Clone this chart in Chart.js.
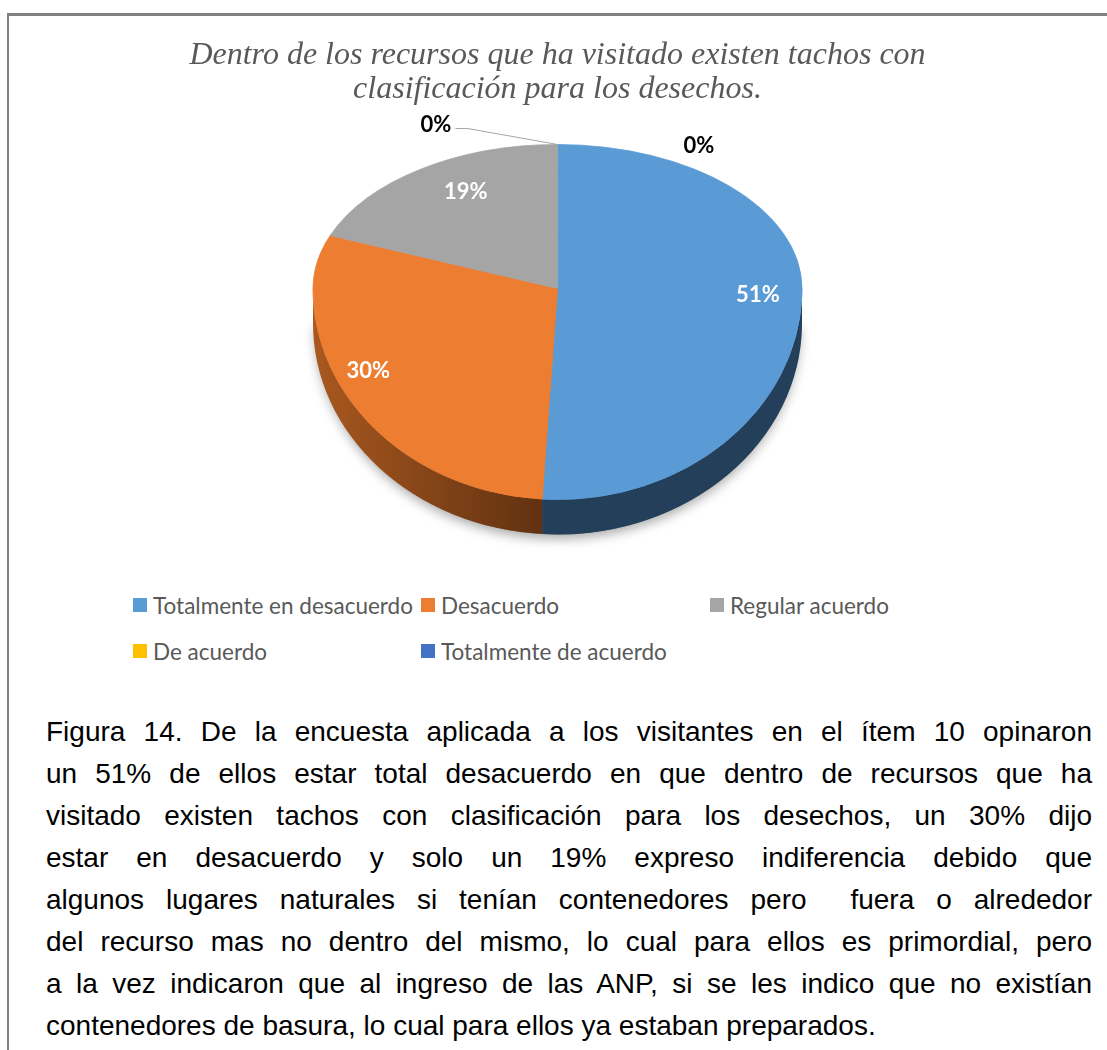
<!DOCTYPE html>
<html lang="es">
<head>
<meta charset="utf-8">
<title>Figura 14</title>
<script src="https://cdn.jsdelivr.net/npm/chart.js@4"></script>
<style>
  html, body { margin: 0; padding: 0; background: #fff; overflow: hidden; }
  body { width: 1107px; height: 1050px; position: relative; }
  #frame {
    position: absolute; left: 7px; top: 13px; width: 1200px; height: 1100px;
    border-top: 3px solid #808080; border-left: 2px solid #808080;
  }
  #chart { position: absolute; left: 0; top: 16px; }
  #legend {
    position: absolute; left: 133px; top: 593px;
    display: grid; grid-template-columns: 288px 289px auto; row-gap: 22px;
    font-family: Lato, sans-serif; font-size: 22.5px; color: #595959;
  }
  #legend .item { display: flex; align-items: center; height: 24px; white-space: nowrap; }
  #legend .box { width: 14px; height: 14px; margin-right: 6px; flex: none; }
  #caption {
    position: absolute; left: 46px; top: 711px; width: 1046px;
    font-family: "Liberation Sans", Arial, sans-serif; font-size: 28px; line-height: 42px; color: #000;
  }
  #caption div { text-align: justify; text-align-last: justify; white-space: pre-wrap; }
  #caption div:last-child { text-align-last: left; }
</style>
</head>
<body>
<div id="frame"></div>
<canvas id="chart" width="1107" height="570"></canvas>
<div id="legend"></div>
<div id="caption">
<div>Figura 14. De la encuesta aplicada a los visitantes en el ítem 10 opinaron</div>
<div>un 51% de ellos estar total desacuerdo en que dentro de recursos que ha</div>
<div>visitado existen tachos con clasificación para los desechos, un 30% dijo</div>
<div>estar en desacuerdo y solo un 19% expreso indiferencia debido que</div>
<div>algunos lugares naturales si tenían contenedores pero  fuera o alrededor</div>
<div>del recurso mas no dentro del mismo, lo cual para ellos es primordial, pero</div>
<div>a la vez indicaron que al ingreso de las ANP, si se les indico que no existían</div>
<div>contenedores de basura, lo cual para ellos ya estaban preparados.</div>
</div>
<script>
"use strict";

const titleLines = [
  "Dentro de los recursos que ha visitado existen tachos con",
  "clasificación para los desechos.",
];
const categories = [
  "Totalmente en desacuerdo",
  "Desacuerdo",
  "Regular acuerdo",
  "De acuerdo",
  "Totalmente de acuerdo",
];
const percentages = [51, 30, 19, 0, 0];

const faceColors = ["#5B9BD5", "#ED7D31", "#A5A5A5", "#FFC000", "#4472C4"];
const sideColors = ["#243F5A", "#ED7D31", "#5F5F5F", "#8F6C00", "#263F6E"];

// tilt of the pie: far half is flatter than the near half (fake perspective)
const TOP_SCALE = 0.589;
const BOTTOM_SCALE = 0.863;
const DEPTH = 35;
const LABEL_RADIUS = 0.82;
// small nudges so labels land where Excel put them
const labelNudge = [[0, 1], [-20, -10], [21, 1], [0, 0], [0, 0]];

const pie3d = {
  id: "pie3d",
  beforeDatasetDraw(chart, args) {
    const ctx = chart.ctx;
    const meta = args.meta;
    const arcs = meta.data;
    const { x, y, outerRadius: r } = arcs[0].getProps(["x", "y", "outerRadius"], true);
    const ry = r * BOTTOM_SCALE;

    // soft shadow under the near rim
    ctx.save();
    ctx.shadowColor = "rgba(0,0,0,0.35)";
    ctx.shadowBlur = 12;
    ctx.shadowOffsetY = 4;
    ctx.beginPath();
    ctx.ellipse(x, y + DEPTH, r - 2, ry, 0, 0, Math.PI);
    ctx.closePath();
    ctx.fillStyle = "#777";
    ctx.fill();
    ctx.restore();

    // visible side walls (front half only)
    arcs.forEach((arc, i) => {
      const a1 = Math.max(arc.startAngle, 0);
      const a2 = Math.min(arc.endAngle, Math.PI);
      if (a2 <= a1) return;
      ctx.beginPath();
      ctx.ellipse(x, y, r, ry, 0, a1, a2);
      ctx.ellipse(x, y + DEPTH, r, ry, 0, a2, a1, true);
      ctx.closePath();
      if (i === 1) {
        const g = ctx.createLinearGradient(x - r, 0, x, 0);
        g.addColorStop(0, "#A9581F");
        g.addColorStop(1, "#5C2F10");
        ctx.fillStyle = g;
      } else {
        ctx.fillStyle = sideColors[i];
      }
      ctx.fill();
    });

    // top face, far half then near half
    ctx.save();
    ctx.beginPath();
    ctx.rect(0, 0, chart.width, y + 1);
    ctx.clip();
    ctx.translate(x, y);
    ctx.scale(1, TOP_SCALE);
    ctx.translate(-x, -y);
    meta.controller.draw();
    ctx.restore();

    ctx.save();
    ctx.beginPath();
    ctx.rect(0, y, chart.width, chart.height - y);
    ctx.clip();
    ctx.translate(x, y);
    ctx.scale(1, BOTTOM_SCALE);
    ctx.translate(-x, -y);
    meta.controller.draw();
    ctx.restore();
    return false;
  },
  afterDatasetsDraw(chart) {
    const ctx = chart.ctx;
    const arcs = chart.getDatasetMeta(0).data;
    const { x, y, outerRadius: r } = arcs[0].getProps(["x", "y", "outerRadius"], true);
    const topX = x;
    const topY = y - r * TOP_SCALE;
    ctx.save();
    ctx.font = "bold 22px Lato";
    ctx.textAlign = "center";
    ctx.textBaseline = "middle";
    let zeroCount = 0;
    arcs.forEach((arc, i) => {
      const text = percentages[i] + "%";
      if (percentages[i] > 0) {
        const mid = (arc.startAngle + arc.endAngle) / 2;
        const k = Math.sin(mid) > 0 ? BOTTOM_SCALE : TOP_SCALE;
        const px = x + Math.cos(mid) * r * LABEL_RADIUS + labelNudge[i][0];
        const py = y + Math.sin(mid) * r * k * LABEL_RADIUS + labelNudge[i][1];
        ctx.fillStyle = "#FFFFFF";
        ctx.fillText(text, px, py);
      } else {
        ctx.fillStyle = "#000000";
        if (zeroCount === 0) {
          ctx.strokeStyle = "#A6A6A6";
          ctx.lineWidth = 1;
          ctx.beginPath();
          ctx.moveTo(topX - 102, topY - 16);
          ctx.lineTo(topX - 90, topY - 16);
          ctx.lineTo(topX, topY);
          ctx.stroke();
          ctx.fillText(text, topX - 121.5, topY - 20);
        } else {
          ctx.fillText(text, topX + 141.5, topY + 1);
        }
        zeroCount++;
      }
    });
    ctx.restore();
  },
};

const chart = new Chart(document.getElementById("chart"), {
  type: "pie",
  data: {
    labels: categories,
    datasets: [
      {
        data: percentages,
        backgroundColor: faceColors,
        borderColor: faceColors,
        borderWidth: 1,
        radius: 244.5,
        clip: false,
      },
    ],
  },
  options: {
    responsive: false,
    animation: false,
    layout: { padding: { left: 8, right: 0, top: 0, bottom: 115.5 } },
    plugins: {
      legend: { display: false },
      tooltip: { enabled: false },
      title: {
        display: true,
        text: titleLines,
        color: "#595959",
        font: { family: "Liberation Serif", style: "italic", weight: "normal", size: 32, lineHeight: 34 / 32 },
        padding: { top: 22.5, bottom: 0 },
      },
    },
  },
  plugins: [pie3d],
});

// legend built from the chart's own labels and colours
const legendBox = document.getElementById("legend");
chart.data.labels.forEach((name, i) => {
  const item = document.createElement("div");
  item.className = "item";
  const box = document.createElement("span");
  box.className = "box";
  box.style.background = chart.data.datasets[0].backgroundColor[i];
  const label = document.createElement("span");
  label.textContent = name;
  item.appendChild(box);
  item.appendChild(label);
  legendBox.appendChild(item);
});
</script>
</body>
</html>
